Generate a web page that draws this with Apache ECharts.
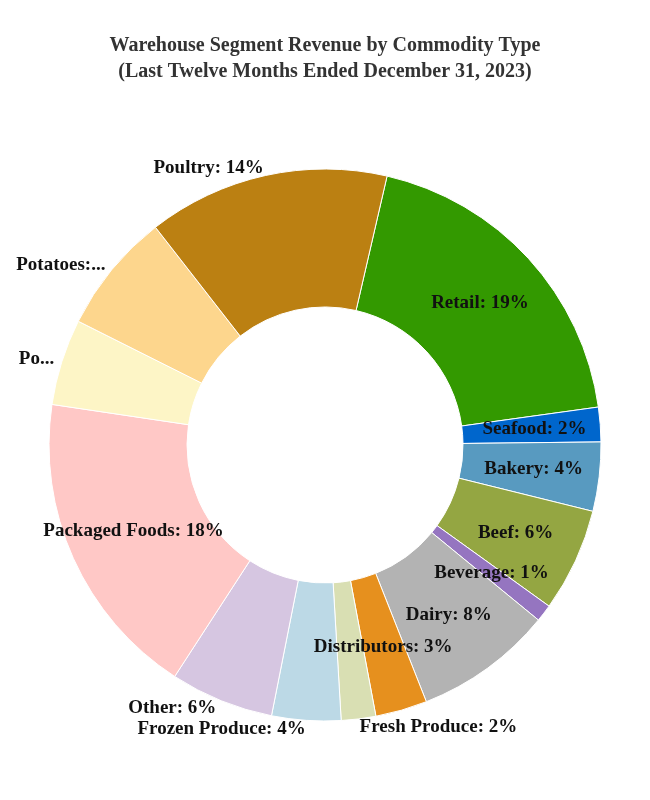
<!DOCTYPE html>
<html><head><meta charset="utf-8">
<script src="https://cdn.jsdelivr.net/npm/echarts@6/dist/echarts.min.js"></script>
<style>html,body{margin:0;padding:0;background:#fff}#c{width:650px;height:800px}</style>
</head><body><div id="c"></div>
<script>
const categories = ['Retail','Seafood','Bakery','Beef','Beverage','Dairy','Distributors','Fresh Produce','Frozen Produce','Other','Packaged Foods','Pork','Potatoes','Poultry'];
const values = [19,2,4,6,1,8,3,2,4,6,18,5,7,14];
const colors = ['#339900','#0066cc','#589ac0','#94a642','#9575c0','#b3b3b3','#e6901e','#d9dfb3','#bcd9e6','#d6c6e1','#ffc8c6','#fdf5c6','#fdd68d','#bb8012'];
const outsideLabels = ['Fresh Produce','Frozen Produce','Other','Pork','Potatoes','Poultry'];
const chart = echarts.init(document.getElementById('c'));
chart.setOption({
  animation:false,
  title:{text:'Warehouse Segment Revenue by Commodity Type\n(Last Twelve Months Ended December 31, 2023)',left:'center',top:28,
    textStyle:{fontFamily:'Liberation Serif',fontWeight:'bold',fontSize:20,color:'#333',lineHeight:26}},
  series:[{type:'pie',center:[325,445],radius:[138,276],startAngle:77,clockwise:true,
    itemStyle:{borderColor:'#fff',borderWidth:1},
    label:{fontFamily:'Liberation Serif',fontWeight:'bold',fontSize:19,color:'#111',formatter:'{b}: {c}%'},
    labelLine:{show:false},
    data:categories.map((n,i)=>({name:n,value:values[i],itemStyle:{color:colors[i]},
      label:outsideLabels.includes(n)?{position:'outside',distanceToLabelLine:0}:{position:'inside'},
      labelLine:{show:false,length:8,length2:0}}))
  }]
});
</script></body></html>
